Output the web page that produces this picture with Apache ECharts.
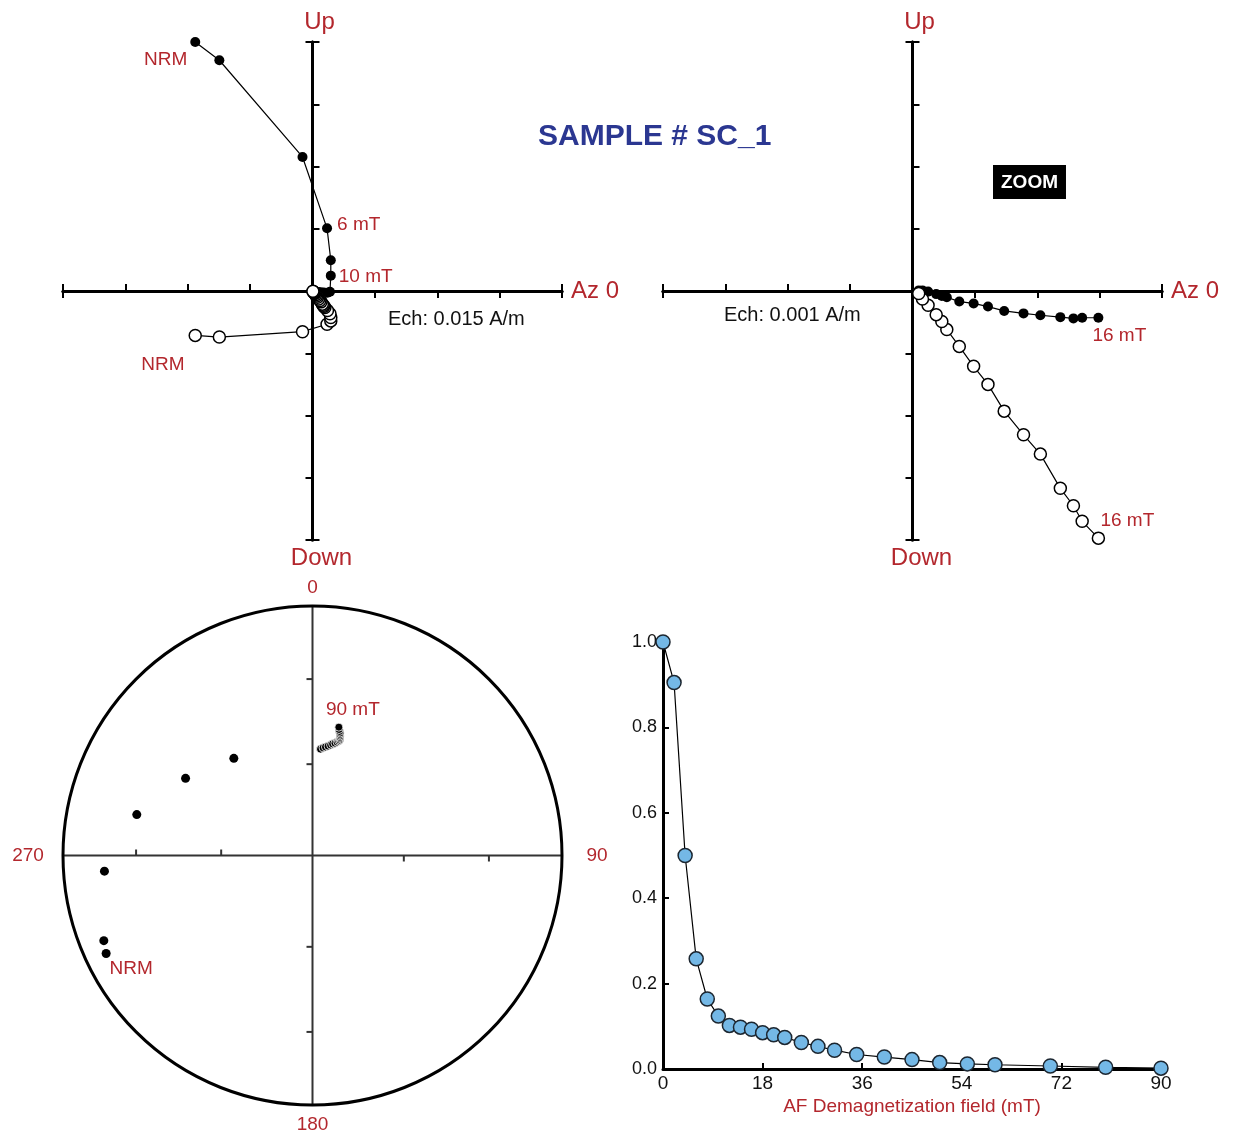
<!DOCTYPE html>
<html><head><meta charset="utf-8">
<script src="https://cdn.jsdelivr.net/npm/echarts@6/dist/echarts.min.js"></script>
<style>html,body{margin:0;padding:0;background:#fff}#main{width:1234px;height:1140px}</style>
</head><body><div id="main"></div>
<script>
// ---------------- DATA ----------------
var afField = [0,2,4,6,8,10,12,14,16,18,20,22,25,28,31,35,40,45,50,55,60,70,80,90];
var intensity = [1.0,0.905,0.500,0.258,0.164,0.124,0.102,0.098,0.093,0.085,0.080,0.074,0.062,0.053,0.044,0.034,0.028,0.022,0.015,0.012,0.010,0.007,0.004,0.002];

// Zijderveld components (A/m), NRM .. 14 mT
var zijNorthLow = [-0.0282,-0.0224,-0.0024,0.0035,0.0044,0.0044,0.0042,0.0036];
var zijHorLow   = [0.0600,0.0556,0.0323,0.0151,0.0074,0.0037,-0.0002,-0.0004];
var zijVerLow   = [-0.0107,-0.0111,-0.0098,-0.0080,-0.0072,-0.0064,-0.0055,-0.0047];
// Zijderveld components (A/m), 16 .. 90 mT (zoom)
var zijNorthHigh = [0.00298,0.00272,0.00258,0.00237,0.00205,0.00178,0.00147,0.00121,0.00098,0.00075,0.00055,0.00047,0.00038,0.00025,0.00016,0.0001];
var zijHorHigh   = [-0.00043,-0.00043,-0.00044,-0.00042,-0.00039,-0.00036,-0.00032,-0.00025,-0.0002,-0.00017,-0.0001,-0.00008,-0.00005,-0.00001,0.00001,0.00001];
var zijVerHigh   = [-0.00397,-0.0037,-0.00345,-0.00317,-0.00262,-0.00231,-0.00193,-0.0015,-0.00121,-0.00089,-0.00062,-0.00049,-0.00038,-0.00023,-0.00013,-0.00004];

// Stereonet directions (degrees)
var stereoDec = [244.6,247.8,265.7,283.1,301.3,321.0,4.3,5.6,6.8,8.1,9.3,10.2,11.3,12.2,12.8,13.2,13.2,13.1,13.0,12.8,12.7,12.3,11.9,11.6];
var stereoInc = [9.3,10.6,17.5,28.5,40.2,48.5,54.8,54.3,53.9,53.5,53.0,52.5,52.1,51.6,51.1,50.7,50.2,49.8,49.3,48.8,48.3,47.8,47.2,46.4];
var stereoTickInc = [30, 60];
var stereoDirLabels = ['0','90','180','270'];

var zijStepMain = 0.015;   // Ech: 0.015 A/m
var zijStepZoom = 0.001;   // Ech: 0.001 A/m
var intensityXTicks = 18;
var intensityYTicks = 0.2;

// ---------------- BUILD ----------------
var RED = '#b3272d';
var FONT = 'Liberation Sans, Arial, Helvetica, sans-serif';

var zijNorth = zijNorthLow.concat(zijNorthHigh);
var zijHor = zijHorLow.concat(zijHorHigh);
var zijVer = zijVerLow.concat(zijVerHigh);

function lab(text, pos, dist, off) {
  return {show: true, formatter: text, position: pos, distance: dist, offset: off,
          color: RED, fontSize: 19, fontFamily: FONT, opacity: 1};
}
function pts(xs, ys, labels) {
  return xs.map(function (x, i) {
    var d = {value: [x, ys[i]]};
    if (labels && labels[i]) d.label = labels[i];
    return d;
  });
}
function eqArea(inc) { return Math.SQRT2 * Math.sin((90 - Math.abs(inc)) / 2 * Math.PI / 180); }

function zijAxes(g, step, xIdxA, yIdxA) {
  var ext = 4 * step;
  var negs = [-4, -3, -2, -1].map(function (k) { return k * step; });
  var poss = [1, 2, 3, 4].map(function (k) { return k * step; });
  var line = {show: true, onZero: true, lineStyle: {color: '#000', width: 3}};
  var tickStyle = {color: '#000', width: 2};
  function ax(extra) {
    var base = {gridIndex: g, type: 'value', min: -ext, max: ext, interval: step,
      axisLabel: {show: false}, splitLine: {show: false}};
    for (var k in extra) base[k] = extra[k];
    return base;
  }
  var xs = [
    ax({position: 'bottom', axisLine: Object.assign({}, line, {onZeroAxisIndex: yIdxA}),
        axisTick: {show: true, inside: true, length: 7, lineStyle: tickStyle, customValues: negs.concat([ext])},
        name: 'Az 0', nameLocation: 'end', nameGap: 9,
        nameTextStyle: {color: RED, fontSize: 24, fontFamily: FONT}}),
    ax({position: 'bottom', axisLine: Object.assign({}, line, {onZeroAxisIndex: yIdxA}),
        axisTick: {show: true, inside: false, length: 7, lineStyle: tickStyle, customValues: [-ext].concat(poss)}})
  ];
  var ys = [
    ax({position: 'left', axisLine: Object.assign({}, line, {onZeroAxisIndex: xIdxA}),
        axisTick: {show: true, inside: true, length: 7, lineStyle: tickStyle, customValues: poss.concat([-ext])},
        name: 'Up', nameLocation: 'end', nameGap: 8,
        nameTextStyle: {color: RED, fontSize: 24, fontFamily: FONT, padding: [0, 0, 0, 14]}}),
    ax({position: 'left', axisLine: Object.assign({}, line, {onZeroAxisIndex: xIdxA}),
        axisTick: {show: true, inside: false, length: 7, lineStyle: tickStyle, customValues: negs.concat([ext])},
        name: 'Down', nameLocation: 'start', nameGap: 6,
        nameTextStyle: {color: RED, fontSize: 24, fontFamily: FONT, padding: [0, 0, 0, 18]}})
  ];
  return {x: xs, y: ys};
}

var a0 = zijAxes(0, zijStepMain, 0, 0);
var a1 = zijAxes(1, zijStepZoom, 2, 2);

var xAxes = a0.x.concat(a1.x).concat([
  {gridIndex: 2, type: 'value', min: -1, max: 1, show: false},
  {gridIndex: 3, type: 'value', min: 0, max: 90, interval: intensityXTicks,
   axisLine: {show: true, onZero: false, lineStyle: {color: '#000', width: 3}},
   axisTick: {show: true, inside: true, length: 6, lineStyle: {color: '#000', width: 2}},
   axisLabel: {color: '#111', fontSize: 19, margin: 5, fontFamily: FONT},
   splitLine: {show: false},
   name: 'AF Demagnetization field (mT)', nameLocation: 'middle', nameGap: 28,
   nameTextStyle: {color: RED, fontSize: 19, fontFamily: FONT}}
]);
var yAxes = a0.y.concat(a1.y).concat([
  {gridIndex: 2, type: 'value', min: -1, max: 1, show: false},
  {gridIndex: 3, type: 'value', min: 0, max: 1, interval: intensityYTicks,
   axisLine: {show: true, onZero: false, lineStyle: {color: '#000', width: 3}},
   axisTick: {show: true, inside: true, length: 6, lineStyle: {color: '#000', width: 2}},
   axisLabel: {color: '#111', fontSize: 18, margin: 6, fontFamily: FONT,
     formatter: function (v) { return v.toFixed(1); }},
   splitLine: {show: false}}
]);

var filledStyle = {color: '#000', opacity: 1};
var openStyle = {color: '#fff', borderColor: '#000', borderWidth: 1.5, opacity: 1};
var lineStyle = {color: '#000', width: 1.2};

var mainFilledLabels = [];
mainFilledLabels[0] = lab('NRM', 'left', 3, [0, 18]);
mainFilledLabels[3] = lab('6 mT', 'right', 5, [0, -4]);
mainFilledLabels[5] = lab('10 mT', 'right', 3, [0, 1]);
var mainOpenLabels = [];
mainOpenLabels[0] = lab('NRM', 'left', 4, [0, 29]);
var zoomFilledLabels = [];
zoomFilledLabels[0] = lab('16 mT', 'bottom', 3, [21, 0]);
var zoomOpenLabels = [];
zoomOpenLabels[0] = lab('16 mT', 'top', 1, [29, 0]);

var stereoX = stereoDec.map(function (d, i) { return eqArea(stereoInc[i]) * Math.sin(d * Math.PI / 180); });
var stereoY = stereoDec.map(function (d, i) { return eqArea(stereoInc[i]) * Math.cos(d * Math.PI / 180); });
var stereoData = pts(stereoX, stereoY, []);
stereoData.forEach(function (d, i) {
  if (i >= 6) { d.symbolSize = 8; d.itemStyle = {color: '#000', borderColor: '#fff', borderWidth: 0.8, opacity: 1}; }
});
stereoData[0].label = lab('NRM', 'bottom', 1, [25, 0]);
stereoData[23].label = lab('90 mT', 'top', 3, [14, 0]);

var series = [
  {type: 'line', xAxisIndex: 0, yAxisIndex: 0, data: pts(zijNorth, zijHor, mainFilledLabels),
   symbol: 'circle', symbolSize: 10, itemStyle: filledStyle, lineStyle: lineStyle, clip: false, z: 3},
  {type: 'line', xAxisIndex: 0, yAxisIndex: 0, data: pts(zijNorth, zijVer, mainOpenLabels),
   symbol: 'circle', symbolSize: 12, itemStyle: openStyle, lineStyle: lineStyle, clip: false, z: 3},
  {type: 'line', xAxisIndex: 2, yAxisIndex: 2, data: pts(zijNorthHigh, zijHorHigh, zoomFilledLabels),
   symbol: 'circle', symbolSize: 10, itemStyle: filledStyle, lineStyle: lineStyle, clip: false, z: 3},
  {type: 'line', xAxisIndex: 2, yAxisIndex: 2, data: pts(zijNorthHigh, zijVerHigh, zoomOpenLabels),
   symbol: 'circle', symbolSize: 12, itemStyle: openStyle, lineStyle: lineStyle, clip: false, z: 3},
  {type: 'custom', xAxisIndex: 4, yAxisIndex: 4, data: [[0, 0]], silent: true, z: 1,
   renderItem: function (params, api) {
     var c = api.coord([0, 0]);
     var R = api.coord([1, 0])[0] - c[0];
     var L = api.coord([-1, 0]), Rt = api.coord([1, 0]), T = api.coord([0, 1]), B = api.coord([0, -1]);
     var ls = {stroke: '#333', lineWidth: 2};
     var ch = [
       {type: 'line', shape: {x1: L[0], y1: L[1], x2: Rt[0], y2: Rt[1]}, style: ls},
       {type: 'line', shape: {x1: T[0], y1: T[1], x2: B[0], y2: B[1]}, style: ls},
       {type: 'circle', shape: {cx: c[0], cy: c[1], r: R}, style: {fill: null, stroke: '#000', lineWidth: 3}}
     ];
     stereoTickInc.forEach(function (inc) {
       var r = eqArea(inc);
       var pl = api.coord([-r, 0]), pr = api.coord([r, 0]), pt = api.coord([0, r]), pb = api.coord([0, -r]);
       ch.push({type: 'line', shape: {x1: pl[0], y1: pl[1], x2: pl[0], y2: pl[1] - 6}, style: ls});
       ch.push({type: 'line', shape: {x1: pr[0], y1: pr[1], x2: pr[0], y2: pr[1] + 6}, style: ls});
       ch.push({type: 'line', shape: {x1: pt[0], y1: pt[1], x2: pt[0] - 6, y2: pt[1]}, style: ls});
       ch.push({type: 'line', shape: {x1: pb[0], y1: pb[1], x2: pb[0] - 6, y2: pb[1]}, style: ls});
     });
     var ts = {fill: RED, fontSize: 19, fontFamily: FONT, textAlign: 'center', textVerticalAlign: 'middle'};
     ch.push({type: 'text', x: T[0], y: T[1] - 18, style: Object.assign({text: stereoDirLabels[0]}, ts)});
     ch.push({type: 'text', x: Rt[0] + 35, y: Rt[1], style: Object.assign({text: stereoDirLabels[1]}, ts)});
     ch.push({type: 'text', x: B[0], y: B[1] + 20, style: Object.assign({text: stereoDirLabels[2]}, ts)});
     ch.push({type: 'text', x: L[0] - 35, y: L[1], style: Object.assign({text: stereoDirLabels[3]}, ts)});
     return {type: 'group', children: ch};
   }},
  {type: 'scatter', xAxisIndex: 4, yAxisIndex: 4, data: stereoData, symbol: 'circle', symbolSize: 9,
   itemStyle: {color: '#000', opacity: 1}, z: 3},
  {type: 'line', xAxisIndex: 5, yAxisIndex: 5, data: pts(afField, intensity, []),
   symbol: 'circle', symbolSize: 14, clip: false,
   itemStyle: {color: '#74b8e6', borderColor: '#1c2630', borderWidth: 1.5, opacity: 1},
   lineStyle: {color: '#000', width: 1.2}, z: 3}
];

var chart = echarts.init(document.getElementById('main'), null, {renderer: 'canvas'});
chart.setOption({
  animation: false,
  backgroundColor: '#fff',
  textStyle: {fontFamily: FONT},
  title: [
    {text: 'SAMPLE # SC_1', left: 538, top: 122, padding: 0,
     textStyle: {color: '#2b3791', fontSize: 30, fontWeight: 'bold', fontFamily: FONT}},
    {text: 'ZOOM', left: 993, top: 165, padding: [8, 8, 7, 8], backgroundColor: '#000',
     textStyle: {color: '#fff', fontSize: 19, fontWeight: 'bold', lineHeight: 19, fontFamily: FONT}}
  ],
  graphic: [
    {type: 'text', left: 388, top: 309, style: {text: 'Ech: 0.015 A/m', fill: '#111', fontSize: 20, fontFamily: FONT}},
    {type: 'text', left: 724, top: 305, style: {text: 'Ech: 0.001 A/m', fill: '#111', fontSize: 20, fontFamily: FONT}}
  ],
  grid: [
    {left: 63, top: 42, width: 499, height: 498, outerBoundsMode: 'none'},
    {left: 663, top: 42, width: 499, height: 498, outerBoundsMode: 'none'},
    {left: 63, top: 606, width: 499, height: 499, outerBoundsMode: 'none'},
    {left: 663, top: 642, width: 498, height: 427, outerBoundsMode: 'none'}
  ],
  xAxis: xAxes,
  yAxis: yAxes,
  series: series
});
</script></body></html>
